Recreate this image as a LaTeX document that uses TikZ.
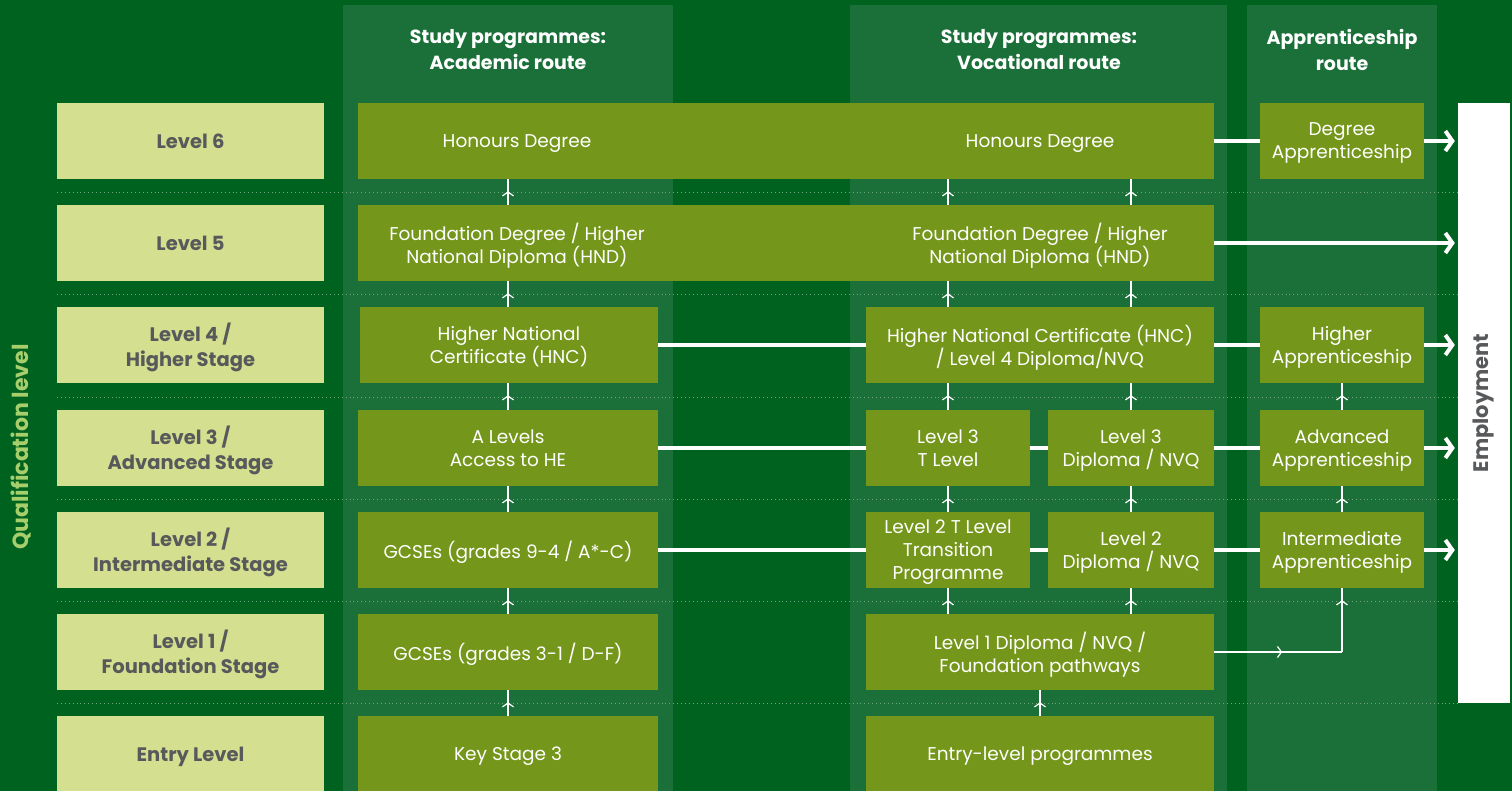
\documentclass[tikz,border=0pt]{standalone}
\usepackage{fontspec}
\setmainfont{Poppins}
\usetikzlibrary{arrows.meta,decorations.markings}

\definecolor{bgdark}{HTML}{00621F}
\definecolor{bandgreen}{HTML}{1A7038}
\definecolor{lvlfill}{HTML}{D4E08F}
\definecolor{lvltext}{HTML}{58595B}
\definecolor{progfill}{HTML}{74961A}
\definecolor{qualgreen}{HTML}{A6CF6C}
\definecolor{dotgreen}{HTML}{6FA57C}

\tikzset{
  lvlbox/.style={fill=lvlfill, text=lvltext, font=\bfseries\fontsize{19.5}{25}\selectfont,
    align=center, minimum width=267pt, minimum height=76pt, inner sep=0pt, text depth=0pt},
  progbox/.style={fill=progfill, text=white, font=\fontsize{18.5}{23}\selectfont,
    align=center, minimum height=76pt, inner sep=0pt, text depth=0pt},
  progtext/.style={text=white, font=\fontsize{18.5}{23}\selectfont, align=center, inner sep=0pt, text depth=0pt},
  headtext/.style={text=white, font=\bfseries\fontsize{19}{26}\selectfont, align=center},
  rowsep/.style={dotgreen, line width=0.9pt, dash pattern=on 0.9pt off 3pt},
  hlink/.style={white, line width=4pt},
  outarrow/.style={hlink, -{Straight Barb[length=7pt,width=20pt]}, shorten >=3pt},
  uplink/.style={white, line width=1.2pt, postaction={decorate},
    decoration={markings, mark=at position -12pt with {\arrow{Straight Barb[length=4pt,width=11pt]}}}},
  sidelink/.style={white, line width=1.2pt, postaction={decorate},
    decoration={markings, mark=at position 68pt with {\arrow{Straight Barb[length=4pt,width=11pt]}}}},
}

\begin{document}
\begin{tikzpicture}[x=1pt,y=-1pt]
    
    % Hintergrund und Spalten
    \fill[bgdark] (0,0) rectangle (1512,791);
    \useasboundingbox (0,0) rectangle (1512,791);
    \fill[bandgreen] (343,5) rectangle (673,791);
    \fill[bandgreen] (850,5) rectangle (1227,791);
    \fill[bandgreen] (1247,5) rectangle (1437,791);
    
    % Spaltenueberschriften
    \node[headtext] (hdA) at (508,50) {Study programmes:\\Academic route};
    \node[headtext] (hdV) at (1039,50) {Study programmes:\\Vocational route};
    \node[headtext] (hdP) at (1342,50) {Apprenticeship\\route};
    
    % gepunktete Trennlinien zwischen den Stufen
    \foreach \y in {192,294,397,499,601,703}
        \draw[rowsep] (57,\y) -- (1458,\y);
    
    % Stufen links
    \node[lvlbox] (lv6) at (190.5,141) {Level 6};
    \node[lvlbox] (lv5) at (190.5,243) {Level 5};
    \node[lvlbox] (lv4) at (190.5,345) {Level 4 /\\Higher Stage};
    \node[lvlbox] (lv3) at (190.5,448) {Level 3 /\\Advanced Stage};
    \node[lvlbox] (lv2) at (190.5,550) {Level 2 /\\Intermediate Stage};
    \node[lvlbox] (lv1) at (190.5,652) {Level 1 /\\Foundation Stage};
    \node[lvlbox] (lv0) at (190.5,754) {Entry Level};
    
    \node[rotate=90, text=qualgreen, font=\bfseries\fontsize{22}{24}\selectfont] (qual) at (21,447) {Qualification level};
    
    % Beschaeftigung rechts
    \node[fill=white, minimum width=52pt, minimum height=600pt, inner sep=0pt] (emp) at (1484,403) {};
    \node[rotate=90, text=lvltext, font=\bfseries\fontsize{21}{24}\selectfont] (empt) at (emp) {Employment};
    
    % Stufe 6 und 5 (breite Kaesten)
    \node[progbox, minimum width=856pt] (hon) at (786,141) {};
    \node[progtext] (honA) at (517,141) {Honours Degree};
    \node[progtext] (honV) at (1040,141) {Honours Degree};
    \node[progbox, minimum width=856pt] (fd) at (786,243) {};
    \node[progtext] (fdA) at (517,243) {Foundation Degree / Higher\\National Diploma (HND)};
    \node[progtext] (fdV) at (1040,243) {Foundation Degree / Higher\\National Diploma (HND)};
    
    % akademischer Weg
    \node[progbox, minimum width=298pt] (ac4) at (509,345) {Higher National\\Certificate (HNC)};
    \node[progbox, minimum width=300pt] (ac3) at (508,448) {A Levels\\Access to HE};
    \node[progbox, minimum width=300pt] (ac2) at (508,550) {GCSEs (grades 9-4 / A*-C)};
    \node[progbox, minimum width=300pt] (ac1) at (508,652) {GCSEs (grades 3-1 / D-F)};
    \node[progbox, minimum width=300pt] (ac0) at (508,754) {Key Stage 3};
    
    % beruflicher Weg
    \node[progbox, minimum width=348pt] (vo4) at (1040,345) {Higher National Certificate (HNC)\\/ Level 4 Diploma/NVQ};
    \node[progbox, minimum width=164pt] (tl3) at (948,448) {Level 3\\T Level};
    \node[progbox, minimum width=166pt] (dp3) at (1131,448) {Level 3\\Diploma / NVQ};
    \node[progbox, minimum width=164pt] (tl2) at (948,550) {Level 2 T Level\\Transition\\Programme};
    \node[progbox, minimum width=166pt] (dp2) at (1131,550) {Level 2\\Diploma / NVQ};
    \node[progbox, minimum width=348pt] (vo1) at (1040,652) {Level 1 Diploma / NVQ /\\Foundation pathways};
    \node[progbox, minimum width=348pt] (vo0) at (1040,754) {Entry-level programmes};
    
    % Ausbildungsweg
    \node[progbox, minimum width=164pt] (ap6) at (1342,141) {Degree\\Apprenticeship};
    \node[progbox, minimum width=164pt] (ap4) at (1342,345) {Higher\\Apprenticeship};
    \node[progbox, minimum width=164pt] (ap3) at (1342,448) {Advanced\\Apprenticeship};
    \node[progbox, minimum width=164pt] (ap2) at (1342,550) {Intermediate\\Apprenticeship};
    
    % waagrechte Verbindungen
    \draw[hlink] (hon.east) -- (ap6.west);
    \draw[outarrow] (ap6.east) -- (ap6.east -| emp.west);
    \draw[outarrow] (fd.east) -- (fd.east -| emp.west);
    \draw[hlink] (ac4.east) -- (vo4.west);
    \draw[hlink] (vo4.east) -- (ap4.west);
    \draw[outarrow] (ap4.east) -- (ap4.east -| emp.west);
    \draw[hlink] (ac3.east) -- (tl3.west);
    \draw[hlink] (tl3.east) -- (dp3.west);
    \draw[hlink] (dp3.east) -- (ap3.west);
    \draw[outarrow] (ap3.east) -- (ap3.east -| emp.west);
    \draw[hlink] (ac2.east) -- (tl2.west);
    \draw[hlink] (tl2.east) -- (dp2.west);
    \draw[hlink] (dp2.east) -- (ap2.west);
    \draw[outarrow] (ap2.east) -- (ap2.east -| emp.west);
    
    % Pfeile nach oben
    \draw[uplink] (ac0.north -| ac1) -- (ac1.south);
    \draw[uplink] (ac1.north) -- (ac2.south);
    \draw[uplink] (ac2.north) -- (ac3.south);
    \draw[uplink] (ac3.north) -- (ac3 |- ac4.south);
    \draw[uplink] (ac3 |- ac4.north) -- (ac3 |- fd.south);
    \draw[uplink] (ac3 |- fd.north) -- (ac3 |- hon.south);
    \draw[uplink] (vo0.north) -- (vo1.south);
    \draw[uplink] (tl2 |- vo1.north) -- (tl2.south);
    \draw[uplink] (tl2.north) -- (tl3.south);
    \draw[uplink] (tl3.north) -- (tl3 |- vo4.south);
    \draw[uplink] (tl3 |- vo4.north) -- (tl3 |- fd.south);
    \draw[uplink] (tl3 |- fd.north) -- (tl3 |- hon.south);
    \draw[uplink] (dp2 |- vo1.north) -- (dp2.south);
    \draw[uplink] (dp2.north) -- (dp3.south);
    \draw[uplink] (dp3.north) -- (dp3 |- vo4.south);
    \draw[uplink] (dp3 |- vo4.north) -- (dp3 |- fd.south);
    \draw[uplink] (dp3 |- fd.north) -- (dp3 |- hon.south);
    \draw[uplink] (ap2.north) -- (ap3.south);
    \draw[uplink] (ap3.north) -- (ap4.south);
    
    % Stufe 1 zur Lehre
    \draw[sidelink] (vo1.east) -- (vo1.east -| ap2.south);
    \draw[uplink] (vo1.east -| ap2.south) -- (ap2.south);
    
\end{tikzpicture}
\end{document}
